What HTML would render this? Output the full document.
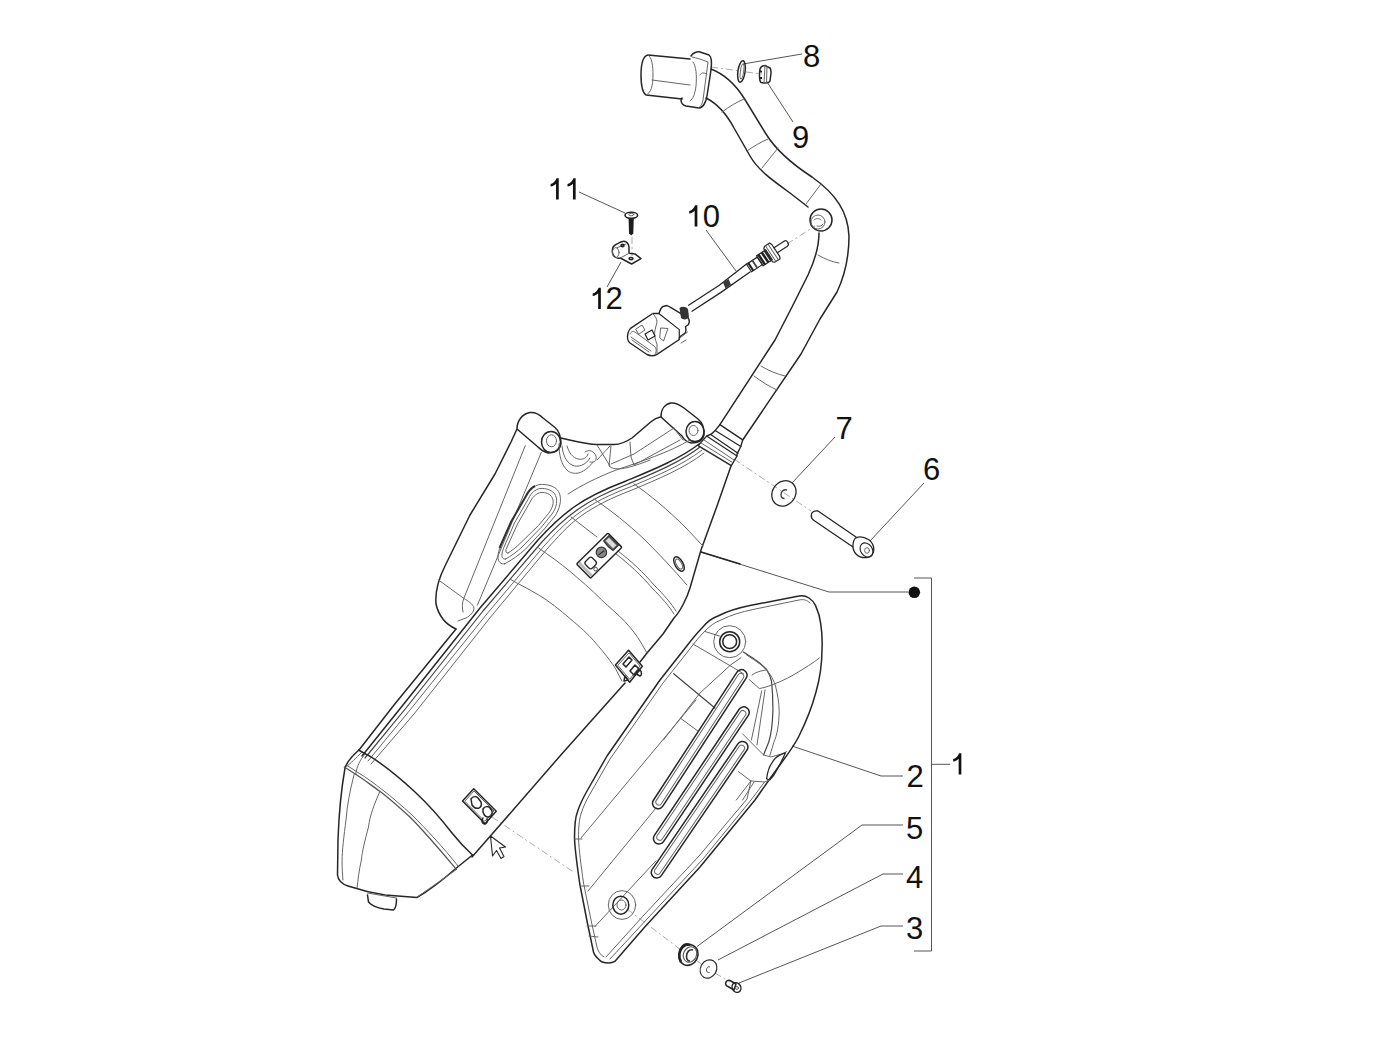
<!DOCTYPE html>
<html><head><meta charset="utf-8">
<style>
html,body{margin:0;padding:0;background:#fff;}
body{width:1400px;height:1052px;overflow:hidden;}
svg{display:block;}
.o{fill:none;stroke:#262626;stroke-width:1.5;stroke-linecap:round;stroke-linejoin:round;}
.t{fill:none;stroke:#666;stroke-width:1;stroke-linecap:round;stroke-linejoin:round;}
.l{fill:none;stroke:#555;stroke-width:1;}
.d{fill:none;stroke:#aaa;stroke-width:1;stroke-dasharray:7 3 2 3;}
text{font-family:"Liberation Sans",sans-serif;font-size:31px;fill:#111;}
</style></head><body>
<svg width="1400" height="1052" viewBox="0 0 1400 1052">
<g id="labels">
<text x="803" y="67">8</text>
<text x="792" y="148">9</text>
<path d="M556.05,199.5 L558.75,199.5 L558.75,178.20 L556.50,178.20 C555.70,180.70 553.60,183.10 550.60,184.10 L550.60,186.60 C552.90,186.20 554.70,185.20 556.05,183.80 Z" fill="#111"/>
<path d="M572.95,199.5 L575.65,199.5 L575.65,178.20 L573.40,178.20 C572.60,180.70 570.50,183.10 567.50,184.10 L567.50,186.60 C569.80,186.20 571.60,185.20 572.95,183.80 Z" fill="#111"/>
<path d="M694.65,226.5 L697.35,226.5 L697.35,205.20 L695.10,205.20 C694.30,207.70 692.20,210.10 689.20,211.10 L689.20,213.60 C691.50,213.20 693.30,212.20 694.65,210.80 Z" fill="#111"/>
<text x="702.8" y="226.5">0</text>
<path d="M598.15,309 L600.85,309 L600.85,287.70 L598.60,287.70 C597.80,290.20 595.70,292.60 592.70,293.60 L592.70,296.10 C595.00,295.70 596.80,294.70 598.15,293.30 Z" fill="#111"/>
<text x="605.5" y="309">2</text>
<text x="835.5" y="439">7</text>
<text x="923" y="479.5">6</text>
<path d="M958.65,774.5 L961.35,774.5 L961.35,753.20 L959.10,753.20 C958.30,755.70 956.20,758.10 953.20,759.10 L953.20,761.60 C955.50,761.20 957.30,760.20 958.65,758.80 Z" fill="#111"/>
<text x="906.5" y="787">2</text>
<text x="906" y="838.5">5</text>
<text x="906" y="887.5">4</text>
<text x="906" y="938.5">3</text>
</g>
<!-- leader lines -->
<g id="leaders" class="l">
<path d="M743,64 L802,54"/>
<path d="M767,82 L793,122"/>
<path d="M579,192 L625,213"/>
<path d="M706,230 L736,271"/>
<path d="M607,287 L621,262"/>
<path d="M835,437 L792,483"/>
<path d="M924,483 L870,541"/>
<path d="M701,552 L829,592 L908,592"/>
<path d="M914,578 L931.5,578 L931.5,951 L914,951"/>
<path d="M931.5,764.3 L950,764.3"/>
<path d="M792,746 L881,776 L903,776"/>
<path d="M697,946.5 L862,825 L903,825"/>
<path d="M718,960 L883,874 L903,874"/>
<path d="M739,983 L881,926 L903,926"/>
</g>
<circle cx="914.3" cy="592.3" r="5.8" fill="#111"/>
<!-- dashed -->
<g class="d">
<path d="M711,67 L740,71 M746,72 L762,74"/>
<path d="M632,237 L632,256"/>
<path d="M787,244 L815,226"/>
<path d="M734,459 L811,511"/>
<path d="M492,817 L575,873"/>
<path d="M627,909 L681,950 M696,960 L702,964.5 M715,973 L730,982"/>
</g>

<!-- header pipe -->
<g id="pipe">
<!-- inlet cylinder -->
<path class="o" d="M690,59 L648,55 C643,56 641,65 641,75 C641,86 643,93 646,95 L682,99"/>
<path class="t" d="M648,55 C652,57 653,66 653,75 C653,86 651,93 646,95"/>
<path class="t" d="M652,80 L690,85"/>
<!-- flange -->
<path class="o" d="M691,56 C693,53 697,51 700,52 L709,55 C712,57 712,62 711,70 L707,96 C706,102 703,108 699,108 L686,106 C682,105 681,102 681,100 L682,98"/>
<path class="t" d="M692,57 C697,58 703,60 708,62 L703,100 C702,105 700,107 698,108"/>
<path class="t" d="M693,62 C696,66 697,75 696,86 C695,94 693,99 690,101"/>
<path class="t" d="M707,74 C703,72 701,73 700,75"/>
<!-- pipe outer edge -->
<path class="o" d="M711,69 C724,74 735,84 744,98 L766,134 C776,150 792,164 812,177 C836,194 848,212 849,236 C849,258 845,275 837,292 L820,319 L801,354 L742.7,440"/>
<!-- pipe inner edge -->
<path class="o" d="M706,98 C716,103 726,113 734,128 L750,156 C758,170 772,180 790,193 L808,207"/>
<path class="o" d="M819,233 C819,245 815,260 808,275 L792,307 L775,340 L719.9,424.7"/>
<!-- cross lines -->
<path class="t" d="M722,112 C730,106 737,102 744,99"/>
<path class="t" d="M747,151 C754,146 761,142 768,139"/>
<path class="t" d="M762,168 L778,148"/>
<path class="t" d="M806,204 L821,184"/>
<path class="t" d="M818,255 C825,259 832,262 839,263"/>
<path class="t" d="M761,366 C769,371 777,374 785,376"/>
<path class="t" d="M754,376 C762,382 770,387 777,390"/>
<!-- boss -->
<circle class="o" cx="821" cy="220" r="11"/>
<circle class="t" cx="818" cy="222" r="7"/>
<path class="t" d="M814,220 C816,218 819,218 821,220 M817,226 C819,227 822,226 823,224"/>
</g>

<g id="muffler">
<!-- bracket left arm outer + boss -->
<path class="o" d="M456,629 C447,625 439,617 436,604 C435,592 438,580 445,566 L470,515 L495,474 L511,442 L517,429 C517,421 522,414 530,412.5 C535,412 539,414 543,418 L555,427.5 C559,431 561,436 561,444 C560,450 555,453 548,453 C544,452 541,450 538,447 L517,429"/>
<ellipse class="o" cx="551" cy="442" rx="9.5" ry="10.5"/>
<ellipse class="t" cx="551.5" cy="440.8" rx="5" ry="6"/>
<!-- arm inner lines -->
<path class="t" d="M525.3,445.6 L463.8,598.4 C462,603 462,608 463,612"/>
<path class="t" d="M438.7,580.1 L463.8,598.4 C468,601 473,604 474,608 C474,612 470,616 466,618 L458,621"/>
<path class="t" d="M541.3,452.4 L477.4,605.2"/>
<!-- slot -->
<path class="t" d="M504.7,563.8 C501,564.5 498,562 498,557 C498,553 499,550 500.5,546 L511,522 L526,496 C529,490 534,485.5 540,484.5 C547,484 554,486 557.5,490 C560.5,494 561,499 560,504 C559,509 557,513 555,516 L544.3,529 L525.7,549 C519,555 512,560 504.7,563.8 Z"/>
<path d="M499.5,548 L511,522 L526,496 C529,490 532,487.5 535,486" fill="none" stroke="#333" stroke-width="2"/>
<path class="t" d="M505.5,559 C503,559.5 501.5,557.5 502,554 C502.5,551 503.5,548 504.5,546 L514.5,523 L528.5,498.5 C531,493 535,489.5 540,488.5 C546,488 551,490 554,493 C556.5,496 557,500 556.5,503.5 C556,507.5 554,511 552,514 L541.5,527 L523,546 C517,552 511,556 505.5,559 Z"/>
<path class="t" d="M508,553 C506,553.5 505.5,551.5 506,549.5 L517.5,524 L531,500.5 C533.5,496 537,493 541,492.5 C546,492 549.5,494 551.5,496.5 C553.5,499 553.5,503 552.5,506 C551.5,509 550,511.5 548.5,513.5 L538.5,525.5 L520.5,543 C516,547.5 512,550.5 508,553 Z"/>
<!-- saddle top -->
<path class="o" d="M561,438 C575,441 585,444 597,444.6 L614,444.6 C620,444.5 626,442 632,438 L651,421.7 C654,419 657,417.5 661,416.7 C661,409 665,404 671,403 C676,402.5 680,405 684,408 L698,419 C703,423 704.5,428 704,435 C703,440 698,443 691,443 C687,442 684,440 682,436 L661,417"/>
<ellipse class="o" cx="695" cy="431.6" rx="9" ry="10"/>
<ellipse class="t" cx="693.5" cy="430.5" rx="4.5" ry="5"/>
<!-- saddle internals -->
<path class="t" d="M559,444 C559,455 561,465 568,471 C575,476 585,473 593,462"/>
<path class="t" d="M562,446 C563,455 566,462 572,465 C578,468 586,465 590,458"/>
<path class="t" d="M567,446 C569,453 573,458 578,459 C583,460 587,458 588,454"/>
<path class="t" d="M585,452 C589,449 594,451 596,456 C597,461 594,463 590,462"/>
<path class="t" d="M597,445 L610,466 M610,446 L597,460 M611,446 L609,466 C615,472 630,468 650,460"/>
<path class="t" d="M630,442 L631,457 L634,465 M611,464 L634,454 L674,428 M634,465 L680,440"/>
<path class="t" d="M673,427 L683,440"/>
<!-- pipe collar -->
<path class="o" d="M719.9,424.7 L742.7,439.9 L740.8,446.5 L737,454.1 L737,456 L731.3,465.6 L698.1,445.6 L706.6,436.1 L711.4,434 L715.2,430.4 Z" style="stroke-width:1.4"/>
<path class="o" d="M715.2,430.4 L740.8,446.5 M711.4,435.1 L738,453.2 M706.6,436.1 L737,456" style="stroke-width:1.2"/>
<path class="t" d="M704,440 L734,460 M701,443 L732.5,462.5"/>
<!-- band -->
<path class="o" d="M699,444 C680,459 650,471 626,481 C605,489 588,497 574,507 C560,517 548,529 538,540 L480,608 L403,705 L362,756"/>
<path class="o" d="M700,447 C681,462 652,474 628,484 C607,492 591,500 577,510 C563,520 551,532 541,543 L483,611 L406,708 L365,758" style="stroke:#444;stroke-width:1.2"/>
<path class="t" d="M702,450 C683,465 654,477 630,487 C609,495 593,503 579,513 C565,523 554,535 544,546 L486,615 L410,710 L368,761"/>
<path class="t" d="M704,453 C685,468 656,480 632,490 C611,498 595,506 581,516 C567,526 557,538 547,549 L489,619 L414,714 L371,764"/>
<path class="o" d="M456,629 L394,705 L359,750"/>
<path class="t" d="M690,440 C670,452 640,462 616,470 C596,478 582,485 568,494"/>
<!-- right edge of body -->
<path class="o" d="M731,466 L717,506 L701,550 L690,588 C687,598 680,612 674,618 L663,634 L647,653 L640,662 M625,683 L592,720 L560,756 L500,825 L472,857"/>
<!-- segment lines -->
<path class="t" d="M634,484 C650,495 668,510 684,526 C692,534 698,541 703,546"/>
<path class="t" d="M594,499 C612,511 628,524 644,539 C660,555 674,570 687,585"/>
<path class="t" d="M571,517 L597,537 M616,554 C628,563 642,576 652,588 C662,598 669,606 674,614"/>
<path class="t" d="M618,551 C630,560 644,573 654,585 C664,595 671,603 676,611"/>
<path class="t" d="M538.6,548 C550,556 560,563 570,571.4 C580,580 591,589 601.4,599.7 C610,608 618,614 625,621.7 C632,629 637,636 640.7,642.1 L647,653"/>
<path class="t" d="M510.3,579.3 C520,585 529,589 538.6,595 C549,601 560,610 570,618.6 C580,627 588,634 593.6,640.6 C600,648 608,657 615.6,668.8 L621.9,681"/>
<path class="o" d="M701,552 L740,564"/>
<!-- clip 1 (top) -->
<g transform="translate(599.25,555.65) rotate(-44.5)">
<rect class="o" x="-22" y="-10" width="44" height="20" rx="1"/>
<path class="t" d="M-19,-9 L-19,9"/>
<path d="M-21,-9 L-18,-9 L-18,9 L-21,9 Z" fill="#bbb"/>
<rect class="o" x="-16" y="-5.5" width="9.5" height="9.5" rx="2.5" style="stroke-width:1.3"/>
<circle class="t" cx="-12" cy="7" r="1.8"/>
<circle cx="3.8" cy="-0.8" r="5.2" fill="#888" stroke="#333" stroke-width="1.2"/>
<path d="M0,-1 L7,0" stroke="#222" stroke-width="1"/>
<path d="M13.5,-7.5 L21,-7.5 L21,6 L13.5,6 C12.5,2 12.5,-3 13.5,-7.5 Z" fill="#666" stroke="#333" stroke-width="1.1"/>
<path d="M15,-6 L19.5,-6 L19.5,4.5 L15,4.5 Z" fill="#ddd"/>
</g>
<!-- oval slot -->
<ellipse class="o" cx="679" cy="564" rx="4" ry="8" transform="rotate(-30 679 564)"/>
<ellipse class="t" cx="679" cy="564" rx="2.5" ry="5.5" transform="rotate(-30 679 564)"/>
</g>

<g id="muffler2">
<!-- end cap -->
<path class="o" d="M359,750 C352,756 347,762 345,768 C342,785 339,810 338,840 L337.5,875 C338,880 342,884 348,886 C360,890 372,893 385,895 L417,897.5 C430,890 445,878 457,867.5 L472.5,855"/>
<path class="t" d="M362,752 C356,758 350,764 347,766 M365,754 C360,760 357,766 355.7,774.2"/>
<path class="o" d="M358.5,750 L371.4,757.1 C385,766 400,778 415,792 C430,806 442,820 452,833 C460,843 467,850 472.5,855"/>
<path class="o" d="M344.3,767 L355.7,774.2 C365,780 372,786 379.9,791.3 C390,799 400,808 409.9,817 C425,832 440,850 455.5,868.3" style="stroke:#555;stroke-width:1.3"/>
<path class="t" d="M347,765.5 L358,772.5 C367,778 375,784 382,789.5 C392,797 402,806 412,815 C427,830 443,847 458,866"/>
<path class="t" d="M354.2,774.2 C350,790 347,806 346,820 C344,835 342,852 342.1,860 C342,868 342.5,875 343,880"/>
<path class="t" d="M379.9,791.3 C374,805 370,815 368.5,827 C365,840 362,852 361.4,860 C359,870 358,880 357.1,888"/>
<path class="t" d="M417.1,897.1 L456.8,869.3"/>
<!-- outlet nub -->
<path class="t" d="M367.5,893 L396.5,898"/>
<path class="o" d="M367.5,895 L368.5,902 C372,906 378,908 384,909 L393.5,910 C396,908 396.5,904 396.5,899"/>
<!-- clip 2 -->
<path class="o" d="M615.4,665.1 L628.6,650.3 L642.3,666.3 L629.7,682.3 Z"/>
<path class="t" d="M618,665 L629,653 L640,666 L630,679 Z"/>
<path class="o" d="M623,664 L629,657 L632,660 L626,667 Z"/>
<path class="o" d="M630,671 L635,665 L639,669 L634,675 Z"/>
<path class="o" d="M636,674 L640,670 C642,672 642,675 640,676 Z"/>
<path class="o" d="M625,676 L628,680 L624,681 Z"/>
<!-- clip 3 -->
<path class="o" d="M462.5,801 L473.75,788.75 L496.25,811.25 L485,823.75 Z"/>
<path class="t" d="M465,801 L474,791 L494,811 L485,821 Z"/>
<path class="o" d="M471,799 C473,796 476,796 478,798 L481,802 C482,805 481,807 479,808 C476,809 474,808 472,805 Z"/>
<path class="o" d="M483,809 C485,806 488,806 490,808 L492,811 C493,814 491,817 488,817 C486,817 484,815 483,812 Z"/>
<path class="o" d="M483,818 C481,820 482,824 485,824 C487,823 488,821 487,819"/>
<!-- cursor -->
<path class="o" d="M490.5,836 L492.5,856 L496.5,850.5 L501,858.5 L504,856.5 L499.5,848 L505.5,847 Z" style="stroke-width:1.1"/>
</g>

<g id="shield">
<!-- outer -->
<path class="o" d="M608.7,963 C604,963 601,962 599.5,960 C596,957 594,954 593.5,952 L587.4,923 L579.8,884 C577,865 575,850 574.5,838 C574.5,828 575,818 577.4,812 C580,804 583,798 587,791 L607,756 L660,680 L686,647 C692,639 697,633 702.4,627.4 C707,622 712,618 718,616 C728,611 738,608 750,605.6 L799,596 C803,595 806,596 809,598 C812,600 814,602 815.6,605.6 C818,611 820,617 820.7,623.6 C822,632 822.5,640 822,649.3 C822,665 820,678 816,692 C812,707 806,722 799,736 C794,746 788,754 782,762 L769.7,779 L755,800 L700,867 L645.2,926.5 L614.8,961.4 C613,962.5 611,963 608.7,963"/>
<path class="t" d="M604,957 C600,955 598,951 597,947 L591,920 L583.5,883 C581,865 579,850 578.5,838 C578.5,829 579,820 581,814 C583,807 586,801 590,794 L610,759 L663,683 L689,650 C695,642 700,636 705,631 C710,626 715,622 721,620 C731,615 741,612 753,609.5 L799,600 C804,599 807,600 810,603"/>
<path class="t" d="M610,959 L648,918 L703,859 L751,800 L764.5,782"/>
<path class="t" d="M606,957 L644,915 L699,856 L747,799 L750.9,781"/>
<path class="t" d="M575,839 L582,839 M580,886 L589,886 M587,926 L596,926 M589,936 L598,937"/>
<path class="t" d="M696,700 L581,838"/>
<path class="t" d="M656,808 L588,891"/>
<path class="t" d="M655.8,861 L595,926.5"/>
<path class="t" d="M663.4,740 L700,693 L731,664.6 L741,657.7"/>
<!-- hole top -->
<circle class="o" cx="729.7" cy="641.7" r="6.9"/>
<circle class="o" cx="729.7" cy="641.7" r="10"/>
<circle class="t" cx="729.7" cy="641.7" r="16"/>
<!-- internals -->
<path class="t" d="M704.6,631.4 L719.4,636"/>
<path class="t" d="M743.4,652 C748,655 753,658 757.1,661.1 C761,664 764,667 766.3,669.1 C769,673 770.5,677 771.5,681 C772.5,690 773,700 772.9,711 C772.5,725 771,735 768.7,742.3 L763.5,754.9" style="stroke:#444;stroke-width:1.2"/>
<path class="t" d="M746,654.5 C751,658 756,661 760,664 C764,667 767,670 769,673 C772,677 774,681 775.5,686 C777.5,694 779,702 779.2,711 C779,725 777,735 773.9,742.3 L769.7,755.9"/>
<path class="t" d="M693,644 L734,668 L743.4,673.7"/>
<path class="t" d="M673.7,673.7 L714.9,708" style="stroke:#444;stroke-width:1.2"/>
<path class="t" d="M680.6,718.3 L697.7,730.9"/>
<path class="t" d="M749,679.4 L759.4,688.6 L766,687 C775,684 785,680 795,674 C805,668 813,663 819.4,658"/>
<path class="t" d="M752,675 C756,672 760,671 766,670"/>
<path class="t" d="M761.7,690.9 L751.4,740 M765,690 L757,745"/>
<path class="t" d="M742.6,733.9 L763.5,754.9 L770.8,757 L782.3,753.8 L786.5,751.7"/>
<path class="o" d="M766.6,778.9 C767.5,772 769,767 771.8,763.2 C774,759 777,756.5 780.2,754.9 L785.4,752.8 C783,759 780,764 777.1,769.5 C775,774 772,778 769.7,780 Z" style="stroke-width:1.2"/>
<path class="t" d="M738.4,771.6 L750.9,781 L764.5,782 L769.7,780"/>
<path class="t" d="M750.9,781 L736.3,800 M754,782 L742.6,800"/>
<!-- slots -->
<g transform="translate(699.8,739.2) rotate(-56.9)">
<rect class="o" x="-82" y="-5.5" width="164" height="11" rx="5.5"/>
<rect class="t" x="-78" y="-3" width="156" height="6" rx="3"/>
</g>
<g transform="translate(701.35,775.4) rotate(-56.1)">
<rect class="o" x="-81.5" y="-5.5" width="163" height="11" rx="5.5"/>
<rect class="t" x="-77.5" y="-3" width="155" height="6" rx="3"/>
</g>
<g transform="translate(699.6,809.7) rotate(-55.7)">
<rect class="o" x="-81.5" y="-5.5" width="163" height="11" rx="5.5"/>
<rect class="t" x="-77.5" y="-3" width="155" height="6" rx="3"/>
</g>
<!-- bottom hole -->
<ellipse class="o" cx="620.8" cy="905.2" rx="8" ry="9"/>
<ellipse class="t" cx="621.5" cy="905" rx="4.5" ry="5"/>
<ellipse class="t" cx="622" cy="905" rx="13.7" ry="14.4"/>
</g>

<g id="small">
<!-- part 8 washer -->
<ellipse class="o" cx="741.5" cy="71.5" rx="3.6" ry="10.8" transform="rotate(8 741.5 71.5)"/>
<ellipse class="t" cx="742" cy="71.5" rx="1.6" ry="7.5" transform="rotate(8 742 71.5)"/>
<!-- part 9 nut -->
<path class="o" d="M760,69 C761,66 762.5,65.5 765,65.5 L770,68 C771,69.5 771.2,71 771,73 L770,81 C769.5,82.5 768,83 764,83 L761,82.5 C760,81.5 759.5,79 759.5,76 L759.5,72.5 Z"/>
<path class="t" d="M765,65.5 L764,83 M767,66.5 L766.5,83"/>
<path d="M760,70 L762,71 L762,72.5 L760,72.5 Z M760,77 L762,77 L762,79 L760,79 Z" fill="#222"/>
<!-- part 11 screw -->
<ellipse class="o" cx="631.3" cy="215.3" rx="6.3" ry="3" style="stroke-width:1.6"/>
<ellipse class="t" cx="631.3" cy="214.6" rx="2.5" ry="1.2"/>
<path d="M628.6,218.5 L633.8,218.5 L633.3,233.5 L631.2,235.5 L629,233.5 Z" fill="#1e1e1e"/>
<!-- part 12 clip -->
<path class="o" d="M612.3,252 C612,248 614,245 617,244 C620,242 623,241 625,241.5 C627,242 628.5,244 629,247 L629,253.3 L635,253.9 L641,258.6 L631.6,264 L620.3,258 C617,259 613,257 612.3,252 Z" style="stroke-width:1.5"/>
<ellipse class="t" cx="615.7" cy="252.6" rx="3.3" ry="5"/>
<path class="t" d="M617,247.7 L626,244 M620.3,258 L629,253.3"/>
<ellipse class="o" cx="631" cy="258.6" rx="2" ry="1.2"/>
<ellipse class="o" cx="622.5" cy="245.5" rx="1.5" ry="1.2"/>
<!-- part 10 sensor -->
<path class="o" d="M688.6,305.2 L719.3,285.3 L746.5,264 M692,311.2 L720.6,292.6 L750,272" style="stroke-width:1.3"/>
<path d="M723,282.5 L728.5,279 L731,284.5 L725.5,288.5 Z" fill="#3a3a3a"/>
<g transform="translate(749,268) rotate(-33.5)">
<path class="o" d="M0,-4.5 L13,-4.5 L13,4.5 L0,4.5 Z" style="stroke-width:1.2"/>
<rect x="1" y="-5" width="2.2" height="10" fill="#222"/>
<rect x="6" y="-5" width="1.8" height="10" fill="#444"/>
<path class="o" d="M13,-6 L24,-6 L24,6 L13,6 Z" style="stroke-width:1.2"/>
<rect x="14" y="-6" width="2.5" height="12" fill="#1e1e1e"/>
<rect x="18" y="-6" width="2.5" height="12" fill="#1e1e1e"/>
<rect x="21.5" y="-6" width="2" height="12" fill="#333"/>
<path class="o" d="M23,-8 L25,-9.5 L31,-9.5 L32,-7 L32,7 L31,9.5 L25,9.5 L23,8 Z" style="stroke-width:1.2"/>
<path class="t" d="M26,-9.5 L26,9.5 M29,-9.5 L29,9.5"/>
<path class="o" d="M32,-3 L44,-3 C46,-3 46.5,-1.5 46.5,0 C46.5,1.5 46,3 44,3 L32,3" style="stroke-width:1.2"/>
</g>
<!-- connector -->
<path class="o" d="M630.5,328.4 L652.7,313.5 L659,313.5 C660,310 661,307.5 663,306.5 L667,305.5 L670.6,307.4 L688,317.9 C689.5,320 689.5,323 688,325 L685.5,326.5 C686,329 686,332 685,333 L679.5,337 L679.3,339.5 L657,354.3 C654,356 650,356 647,354.5 L630,343 C627.5,341 627,337 628,333 C628.5,331 629.5,329.5 630.5,328.4 Z" style="stroke-width:1.4"/>
<path class="t" d="M630,334 C631,331.5 633,331 635,332 L654,346 C656.5,348 657,351.5 655,354"/>
<path class="t" d="M631,337 L651,351 M632,340 L649,352"/>
<path class="t" d="M652.7,313.5 C655,316 657,319 657,322 L655,330 C654,334 655,340 657,344 L657,354"/>
<path class="o" d="M659.5,314 L679.3,329.6 L679.3,339.5" style="stroke-width:1.2"/>
<path class="t" d="M636,329 L642,325 L645,330 L639,334 Z"/>
<path class="o" d="M645,334 L652,330 L655,336 L648,340 Z" style="stroke-width:1.2"/>
<path class="t" d="M661,328 L668,328.5 L663.5,341 L660,338 Z"/>
<path d="M679.5,308 C682,306 686,306.5 688,309 L689,317 C687,320 683,320 681,318 Z" fill="#333"/>
<path class="t" d="M680,338 L685,334 L687.5,332 M681,343 L686,340"/>
<!-- part 7 washer -->
<ellipse class="o" cx="783.9" cy="493.4" rx="11.5" ry="13.3" transform="rotate(35 783.9 493.4)" style="stroke-width:1.3"/>
<path d="M787,490 C784,489 781,491 781,494.5 C781,497 782.5,498.5 784.5,498.5" fill="none" stroke="#444" stroke-width="1.4"/>
<!-- part 6 bolt -->
<path class="o" d="M853,547 L814,520.5 C812.5,519.5 811,517.5 811.3,515 C811.5,512 814,510.5 818,511 L856,537" style="stroke-width:1.3"/>
<path class="o" d="M856,537.8 C859,536.5 864,536.8 868.5,539.5 C872,542 874,546 873.8,550 C873.5,554 871,557 867,557.6 C863,558 859,557 856.5,554.5 C853.5,551.5 852.5,547.5 853,544 C853.5,541 854.5,538.8 856,537.8 Z" style="stroke-width:1.3"/>
<ellipse class="o" cx="866.5" cy="550" rx="5.8" ry="7.6" transform="rotate(-35 866.5 550)" style="stroke-width:1.1"/>
<ellipse class="t" cx="867" cy="550.5" rx="2.4" ry="2.8"/>
<!-- part 5 grommet -->
<ellipse cx="688.5" cy="955" rx="9.3" ry="10.6" transform="rotate(25 688.5 955)" fill="none" stroke="#2a2a2a" stroke-width="1.6"/>
<path d="M681,962 C678,957 679,950 683,946 C685,944 688,944 690,945" fill="none" stroke="#222" stroke-width="2.6"/>
<ellipse cx="690" cy="954.5" rx="6.5" ry="8" transform="rotate(25 690 954.5)" fill="none" stroke="#555" stroke-width="1.1"/>
<path d="M693,950 C689,949 687,952 686.5,956 C686.5,959 688,961 690,961" fill="none" stroke="#333" stroke-width="1.6"/>
<!-- part 4 washer -->
<ellipse class="o" cx="708.5" cy="969" rx="8" ry="9.5" transform="rotate(30 708.5 969)" style="stroke-width:1.1"/>
<path d="M710,967 C708,966 706.5,968 706.5,970 C706.5,972 708,973 709.5,972.5" fill="none" stroke="#444" stroke-width="1"/>
<!-- part 3 screw -->
<path class="o" d="M726,982 C725,983.5 726,986 728,986.5 L734,990 L736,984 L730,980.5 C728.5,980 727,980.5 726,982 Z"/>
<ellipse class="o" cx="736.5" cy="987.5" rx="4.2" ry="5" transform="rotate(-30 736.5 987.5)" style="stroke-width:1.5"/>
<ellipse class="t" cx="737" cy="988" rx="1.5" ry="1.5"/>
</g>

</svg>
</body></html>
